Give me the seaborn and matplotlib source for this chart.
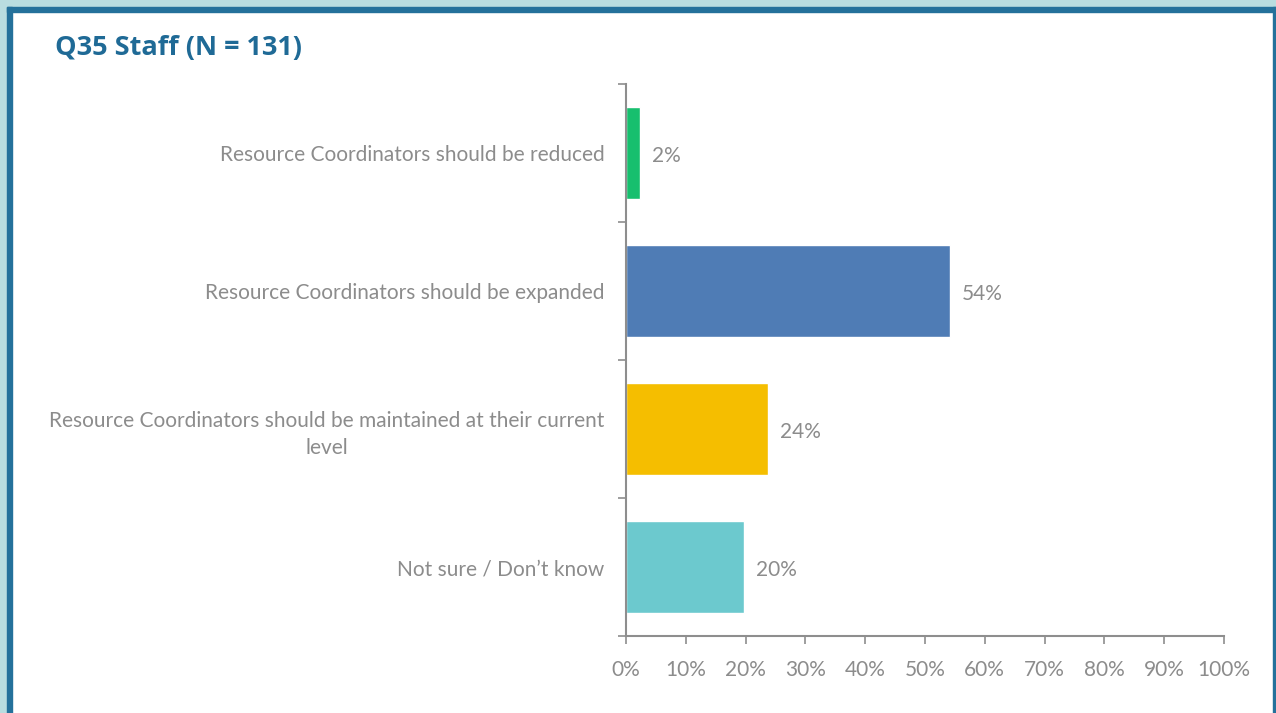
import matplotlib
matplotlib.use("Agg")
import matplotlib.pyplot as plt
import seaborn as sns
import pandas as pd
from matplotlib.patches import Rectangle

categories = [
    "Resource Coordinators should be reduced",
    "Resource Coordinators should be expanded",
    "Resource Coordinators should be maintained at their current\nlevel",
    "Not sure / Don\u2019t know",
]
values = [2.3, 54.2, 23.7, 19.8]
value_labels = ["2%", "54%", "24%", "20%"]
colors = ["#17BF6E", "#4F7CB5", "#F5BE00", "#6CC9CE"]
xticks = [0, 10, 20, 30, 40, 50, 60, 70, 80, 90, 100]
xtick_labels = [f"{t}%" for t in xticks]
title = "Q35 Staff (N = 131)"

sns.set_theme(style="white")
plt.rcParams['font.family'] = ['Lato', 'DejaVu Sans']

df = pd.DataFrame({"cat": categories, "val": values})

W, H = 1276, 713
fig = plt.figure(figsize=(W / 100, H / 100), dpi=100)
fig.patch.set_facecolor("white")

# border bands
light = "#B9DDE0"
dark = "#24719B"
fig.add_artist(Rectangle((0, 1 - 7 / H), 1, 7 / H, transform=fig.transFigure, color=light, zorder=0))
fig.add_artist(Rectangle((0, 0), 7 / W, 1, transform=fig.transFigure, color=light, zorder=0))
fig.add_artist(Rectangle((7 / W, 1 - 12 / H), 1 - 7 / W, 5 / H, transform=fig.transFigure, color=dark, zorder=0))
fig.add_artist(Rectangle((7 / W, 0), 5 / W, 1 - 7 / H, transform=fig.transFigure, color=dark, zorder=0))
fig.add_artist(Rectangle((1 - 3 / W, 0), 3 / W, 1 - 7 / H, transform=fig.transFigure, color=dark, zorder=0))

x0, x1 = 626, 1224
y0, y1 = 84, 636
ax = fig.add_axes([x0 / W, 1 - y1 / H, (x1 - x0) / W, (y1 - y0) / H])
ax.set_facecolor("none")

sns.barplot(data=df, y="cat", x="val", hue="cat", palette=colors, legend=False,
            orient="h", width=0.667, ax=ax, saturation=1)

ax.set_xlim(0, 100)
ax.set_ylim(3.5, -0.5)
ax.set_xlabel("")
ax.set_ylabel("")

gray = "#8C8C8C"
axcol = "#8E8E8E"
for s in ["top", "right"]:
    ax.spines[s].set_visible(False)
for s in ["left", "bottom"]:
    ax.spines[s].set_color(axcol)
    ax.spines[s].set_linewidth(1.5)

ax.set_xticks(xticks)
ax.set_xticklabels(xtick_labels, color=gray, fontsize=15)
ax.tick_params(axis="x", direction="out", length=6, width=1.2, color=axcol, pad=11, bottom=True)

# y ticks at category boundaries (minor) and labels at centres
ax.set_yticks(range(len(categories)))
ax.set_yticklabels(categories, color=gray, fontsize=15, ha="right", multialignment="center",
                   linespacing=1.45)
ax.tick_params(axis="y", which="major", length=0, pad=15.5, left=False)
ax.set_yticks([-0.5, 0.5, 1.5, 2.5, 3.5], minor=True)
ax.tick_params(axis="y", which="minor", direction="out", length=6, width=1.2, color=axcol, left=True)

for i, (v, lab) in enumerate(zip(values, value_labels)):
    ax.text(v + 2.0, i + 0.025, lab, va="center", ha="left", color=gray, fontsize=15)

fig.text(55 / W, 1 - 48 / H, title, color="#1F6A96", fontsize=19.5, fontweight="bold",
         ha="left", va="center", family=["Open Sans", "DejaVu Sans"])

fig.savefig("out.png", dpi=100, facecolor="white")
